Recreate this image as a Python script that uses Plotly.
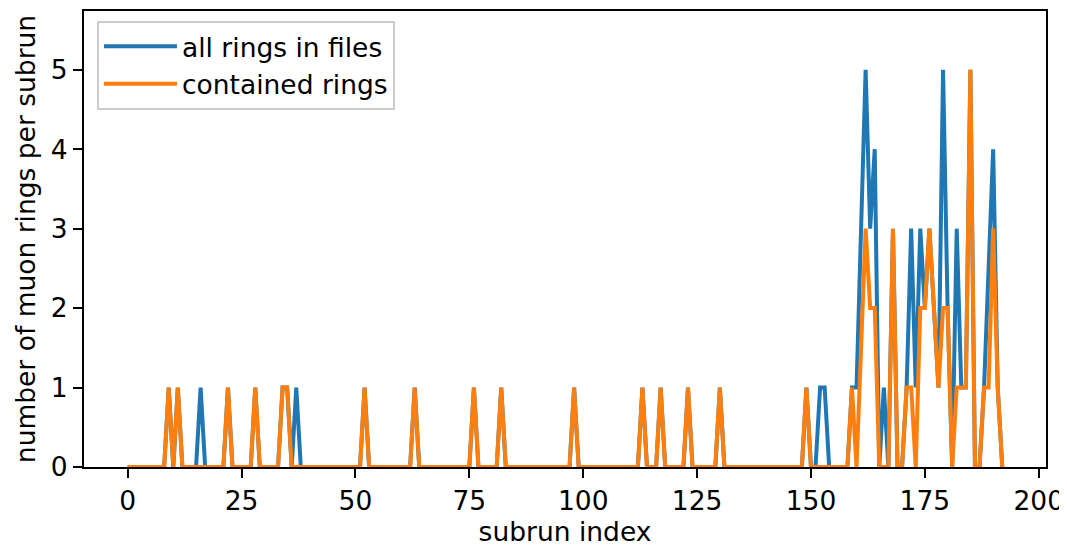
import plotly.graph_objects as go

# subrun indices 0..192
subrun = list(range(193))

# number of muon rings per subrun (None = no point, line connects neighbours)
all_rings = [
    0, 0, 0, 0, 0, 0, 0, 0, 0, 1,      # 0-9
    0, 1, 0, 0, 0, 0, 1, 0, 0, 0,      # 10-19
    0, 0, 1, 0, 0, 0, 0, 0, 1, 0,      # 20-29
    0, 0, 0, 0, 1, 1, 0, 1, 0, 0,      # 30-39
    0, 0, 0, 0, 0, 0, 0, 0, 0, 0,      # 40-49
    0, 0, 1, 0, 0, 0, 0, 0, 0, 0,      # 50-59
    0, 0, 0, 1, 0, 0, 0, 0, 0, 0,      # 60-69
    0, 0, 0, 0, 0, 0, 1, 0, 0, 0,      # 70-79
    0, 0, 1, 0, 0, 0, 0, 0, 0, 0,      # 80-89
    0, 0, 0, 0, 0, 0, 0, 0, 1, 0,      # 90-99
    0, 0, 0, 0, 0, 0, 0, 0, 0, 0,      # 100-109
    0, 0, 0, 1, 0, 0, 0, 1, 0, 0,      # 110-119
    0, 0, 0, 1, 0, 0, 0, 0, 0, 0,      # 120-129
    1, 0, 0, 0, 0, 0, 0, 0, 0, 0,      # 130-139
    0, 0, 0, 0, 0, 0, 0, 0, 0, 1,      # 140-149
    0, 0, 1, 1, 0, 0, 0, 0, 0, 1,      # 150-159
    1, None, 5, 3, 4, 0, 1, 0, 3, 0,   # 160-169
    0, 1, 3, 1, 3, 2, 3, 2, 1, 5,      # 170-179
    2, 0, 3, 1, 1, 5, 0, 0, 1, None,   # 180-189
    4, 1, 0,                           # 190-192
]

contained_rings = [
    0, 0, 0, 0, 0, 0, 0, 0, 0, 1,      # 0-9
    0, 1, 0, 0, 0, 0, 0, 0, 0, 0,      # 10-19
    0, 0, 1, 0, 0, 0, 0, 0, 1, 0,      # 20-29
    0, 0, 0, 0, 1, 1, 0, 0, 0, 0,      # 30-39
    0, 0, 0, 0, 0, 0, 0, 0, 0, 0,      # 40-49
    0, 0, 1, 0, 0, 0, 0, 0, 0, 0,      # 50-59
    0, 0, 0, 1, 0, 0, 0, 0, 0, 0,      # 60-69
    0, 0, 0, 0, 0, 0, 1, 0, 0, 0,      # 70-79
    0, 0, 1, 0, 0, 0, 0, 0, 0, 0,      # 80-89
    0, 0, 0, 0, 0, 0, 0, 0, 1, 0,      # 90-99
    0, 0, 0, 0, 0, 0, 0, 0, 0, 0,      # 100-109
    0, 0, 0, 1, 0, 0, 0, 1, 0, 0,      # 110-119
    0, 0, 0, 1, 0, 0, 0, 0, 0, 0,      # 120-129
    1, 0, 0, 0, 0, 0, 0, 0, 0, 0,      # 130-139
    0, 0, 0, 0, 0, 0, 0, 0, 0, 1,      # 140-149
    0, 0, 0, 0, 0, 0, 0, 0, 0, 1,      # 150-159
    0, None, 3, 2, 2, 0, 0, 0, 3, 0,   # 160-169
    0, 1, 1, 0, 2, 2, 3, 2, 1, 2,      # 170-179
    2, 0, 1, 1, 1, 5, 0, 0, 1, 1,      # 180-189
    3, 1, 0,                           # 190-192
]

series_names = ["all rings in files", "contained rings"]
series_colors = ["#1f77b4", "#ff7f0e"]

x_tick_vals = [0, 25, 50, 75, 100, 125, 150, 175, 200]
y_tick_vals = [0, 1, 2, 3, 4, 5]

FONT = "DejaVu Sans, Verdana, sans-serif"
FS = 26.5

fig = go.Figure()
for name, ys, col, grp in zip(series_names, [all_rings, contained_rings], series_colors, ["a", "b"]):
    fig.add_trace(go.Scatter(
        x=subrun, y=ys, mode="lines", name=name,
        line=dict(color=col, width=4), connectgaps=True,
        legendgroup=grp,
    ))

axis_common = dict(
    showline=True, linecolor="black", linewidth=2, mirror=True,
    ticks="outside", ticklen=9, tickwidth=2, tickcolor="black",
    showgrid=False, zeroline=False,
    tickfont=dict(family=FONT, size=FS, color="black"),
)

# the page body has an 8px default margin, compensated in the figure margins
fig.update_layout(
    width=1059, height=540,
    margin=dict(l=76, r=21, t=1, b=81),
    paper_bgcolor="white", plot_bgcolor="white",
    font=dict(family=FONT, size=FS, color="black"),
    xaxis=dict(range=[-9.6, 201.6], tickvals=x_tick_vals,
               title=dict(text="subrun index", font=dict(family=FONT, size=FS), standoff=8),
               **axis_common),
    yaxis=dict(range=[0, 5.74], tickvals=y_tick_vals,
               title=dict(text="number of muon rings per subrun", font=dict(family=FONT, size=FS), standoff=8),
               **axis_common),
    showlegend=True,
    legend=dict(
        x=0.0135, y=0.979, xanchor="left", yanchor="top",
        bgcolor="rgba(255,255,255,0.8)", bordercolor="#cccccc", borderwidth=2,
        font=dict(family=FONT, size=FS, color="black"),
        traceorder="grouped", tracegroupgap=0, itemwidth=73,
    ),
)

fig.write_html("out.html")
